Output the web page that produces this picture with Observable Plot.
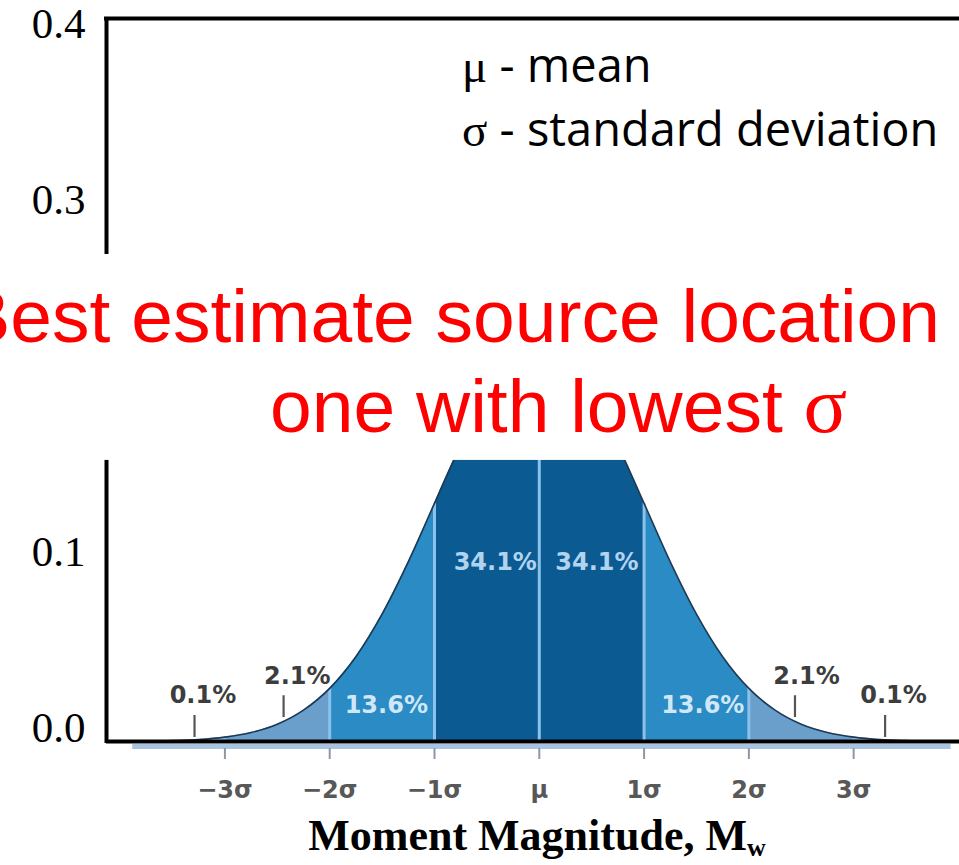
<!DOCTYPE html>
<html><head><meta charset="utf-8">
<script src="https://cdn.jsdelivr.net/npm/d3@7"></script>
<script src="https://cdn.jsdelivr.net/npm/@observablehq/plot@0.6"></script>
<style>html,body{margin:0;padding:0;background:#fff;overflow:hidden}</style>
</head><body><div id="chart"></div>
<script>
// ---- data ----
const sigmaPos = [-3.9,-3.75,-3.5,-3.25,-3,-2.75,-2.5,-2.25,-2,-1.75,-1.5,-1.25,-1,-0.75,-0.5,-0.25,0,0.25,0.5,0.75,1,1.25,1.5,1.75,2,2.25,2.5,2.75,3,3.25,3.5,3.75,3.9];
const density  = [0.0001,0.0002,0.0005,0.0011,0.0025,0.0051,0.0098,0.0178,0.0302,0.0482,0.0724,0.1021,0.1353,0.1683,0.1968,0.2161,0.2230,0.2161,0.1968,0.1683,0.1353,0.1021,0.0724,0.0482,0.0302,0.0178,0.0098,0.0051,0.0025,0.0011,0.0005,0.0002,0.0001];
const regionEdges = [-3.9,-3,-2,-1,0,1,2,3,3.9];
const regionShade = ["outer","far","mid","inner","inner","mid","far","outer"];
const sigmaTicks = [-3,-2,-1,0,1,2,3];
const sigmaTickLabels = ["−3σ","−2σ","−1σ","μ","1σ","2σ","3σ"];
const yTicks = [0,0.1,0.3,0.4];
const pctLabels = ["0.1%","2.1%","13.6%","34.1%","34.1%","13.6%","2.1%","0.1%"];
const pctX = [-3.21,-2.31,-1.46,-0.42,0.55,1.56,2.55,3.38];
const pctY = [0.026,0.037,0.0205,0.1017,0.1017,0.0205,0.037,0.026];
const pctShade = ["dark","dark","light","pale","pale","light","dark","dark"];
const tailMarkX  = [-3.29,-2.44,2.44,3.30];
const tailMarkY1 = [0.0023,0.0136,0.0136,0.0023];
const tailMarkY2 = [0.0148,0.0260,0.0260,0.0148];
const legendSymbols = ["μ","σ"];
const legendTexts = [" - mean"," - standard deviation"];
const noteLine1 = "Best estimate source location";
const noteLine2 = "one with lowest ", noteSymbol = "σ";
const xTitle = "Moment Magnitude, M", xTitleSub = "w";

// ---- layout ----
const W = 959, H = 865, mL = 106, mT = 18, mB = H - 741;
const xDomain = [-4.13, 4.01], yDomain = [0, 0.4108];
const band = {lo: 0.1597, hi: 0.2767};
const imgBase = {x1: -3.88, x2: 3.93};

const curve = sigmaPos.map((x,i)=>({x, y: density[i], base: 0}));
const regions = [];
for (let r = 0; r < regionEdges.length-1; r++) {
  const a = regionEdges[r], b = regionEdges[r+1];
  curve.filter(d => d.x >= a && d.x <= b).forEach(d => regions.push({...d, region: r, shade: regionShade[r]}));
}
const seps = sigmaTicks.map(x => ({x, base: 0, y2: density[sigmaPos.indexOf(x)]}));
const pcts = pctLabels.map((t,i)=>({t, x: pctX[i], y: pctY[i], shade: pctShade[i]}));
const tails = tailMarkX.map((x,i)=>({x, y1: tailMarkY1[i], y2: tailMarkY2[i]}));
const pctColor = {dark: "#3d3d3d", light: "#cfe7f6", pale: "#b0d4ef"};

const plot = Plot.plot({
  width: W, height: H,
  marginLeft: mL, marginRight: 0, marginTop: mT, marginBottom: mB,
  x: {domain: xDomain, axis: null},
  y: {domain: yDomain, axis: null},
  color: {domain: ["outer","far","mid","inner"], range: ["#a8c6e1","#6b9fcb","#2b8bc4","#0c5a92"]},
  style: {background: "white"},
  marks: [
    Plot.area(regions, {x1: "x", y1: "base", y2: "y", z: "region", fill: "shade", curve: "monotone-x"}),
    Plot.ruleX(seps, {x: "x", y1: "base", y2: "y2", stroke: "#8cc1ea", strokeWidth: 3}),
    Plot.lineY(curve, {x: "x", y: "y", stroke: "#1e3954", strokeWidth: 1.6, curve: "monotone-x"}),
    Plot.ruleY([0], {x1: imgBase.x1, x2: imgBase.x2, dy: 5, stroke: "#a9c4e0", strokeWidth: 5}),
    Plot.ruleX(tails, {x: "x", y1: "y1", y2: "y2", stroke: "#555", strokeWidth: 2.2}),
    Plot.text(pcts, {x: "x", y: "y", text: "t", fill: d => pctColor[d.shade], fontSize: 24, fontWeight: "bold", fontFamily: "DejaVu Sans"}),
    Plot.axisX({ticks: sigmaTicks, tickFormat: () => "", tickSize: 11, dy: 7, stroke: "#8c98a6", strokeWidth: 2, label: null}),
    Plot.axisX({ticks: sigmaTicks, tickFormat: (d,i) => sigmaTickLabels[i], tickSize: 0, tickPadding: 39, fontSize: 24, fontWeight: "bold", fontFamily: "DejaVu Sans", color: "#585858", label: null}),
    Plot.axisY({ticks: yTicks, tickFormat: d3.format(".1f"), tickSize: 0, tickPadding: 21, dy: -13.5, fontSize: 43, fontFamily: "Liberation Serif", color: "#000", label: null}),
    Plot.ruleY([yDomain[0]], {stroke: "#000", strokeWidth: 4}),
    Plot.ruleY([yDomain[1]], {stroke: "#000", strokeWidth: 4, insetLeft: -2}),
    Plot.ruleX([xDomain[0]], {stroke: "#000", strokeWidth: 4, insetBottom: -2}),
    Plot.rect([band], {x1: () => xDomain[0], x2: () => xDomain[1], y1: "lo", y2: "hi", fill: "white", insetLeft: -4}),
  ]
});

const svg = d3.select(plot);
svg.style("overflow", "hidden");

// legend (μ / σ in serif, explanation in sans)
const legendBaselines = [82, 146];
legendSymbols.forEach((s, i) => {
  const t = svg.append("text").attr("x", 462).attr("y", legendBaselines[i]).attr("text-anchor", "start").attr("font-size", 47).attr("fill", "#000");
  t.append("tspan").attr("font-family", "Liberation Serif, serif").text(s);
  t.append("tspan").attr("font-family", "Open Sans, sans-serif").text(legendTexts[i]);
});

// red note
const note = svg.append("g").attr("fill", "red").attr("font-family", "Liberation Sans, Arial, sans-serif").attr("font-size", 75);
note.append("text").attr("x", 940).attr("y", 342).attr("text-anchor", "end").text(noteLine1);
const n2 = note.append("text").attr("x", 270).attr("y", 432).attr("text-anchor", "start");
n2.append("tspan").text(noteLine2);
n2.append("tspan").attr("font-family", "Liberation Serif, serif").attr("font-size", 81).text(noteSymbol);

// x title with subscript
const tt = svg.append("text").attr("x", 537).attr("y", 850).attr("text-anchor", "middle")
  .attr("font-family", "Liberation Serif, Times New Roman, serif").attr("font-weight", "bold").attr("font-size", 44).attr("fill", "#000");
tt.append("tspan").text(xTitle);
tt.append("tspan").attr("font-size", 26).attr("dy", 6).text(xTitleSub);

document.getElementById("chart").appendChild(plot);
</script></body></html>
